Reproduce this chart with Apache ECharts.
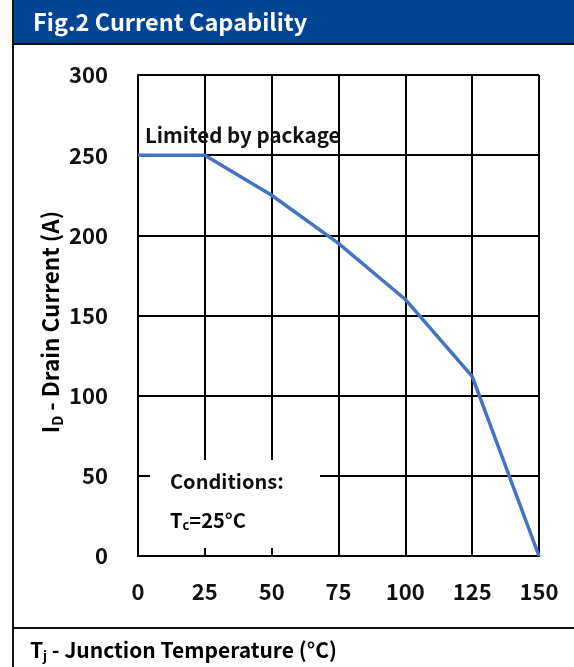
<!DOCTYPE html>
<html><head><meta charset="utf-8">
<script src="https://cdn.jsdelivr.net/npm/echarts@6/dist/echarts.min.js"></script>
<style>html,body{margin:0;padding:0;background:#fff}#c{width:574px;height:667px}</style>
</head><body><div id="c"></div>
<script>
const xTicks = [0, 25, 50, 75, 100, 125, 150];
const yTicks = [0, 50, 100, 150, 200, 250, 300];
const tempC = [0, 25, 50, 75, 100, 125, 150];
const drainA = [250, 250, 225, 195, 160, 112, 0];

const chart = echarts.init(document.getElementById('c'));
const F = '"Noto Sans CJK SC", "Noto Sans", sans-serif';
const W = 'bold';
chart.setOption({
  animation: false,
  grid: {left: 138, right: 35, top: 75, bottom: 111},
  xAxis: {
    type: 'value', min: 0, max: 150, interval: 25,
    axisLine: {show: true, lineStyle: {color: '#000', width: 2}},
    axisTick: {show: false},
    splitLine: {show: true, lineStyle: {color: '#000', width: 2}},
    axisLabel: {margin: 25, color: '#111', fontFamily: F, fontWeight: W, fontSize: 22,
      formatter: v => xTicks.includes(v) ? String(v) : ''}
  },
  yAxis: {
    type: 'value', min: 0, max: 300, interval: 50,
    axisLine: {show: true, lineStyle: {color: '#000', width: 2}},
    axisTick: {show: false},
    splitLine: {show: true, lineStyle: {color: '#000', width: 2}},
    axisLabel: {margin: 30, color: '#111', fontFamily: F, fontWeight: W, fontSize: 22,
      formatter: v => yTicks.includes(v) ? String(v) : ''}
  },
  series: [{
    type: 'line', data: tempC.map((t, i) => [t, drainA[i]]),
    symbol: 'none', lineStyle: {color: '#4472C4', width: 3.5}, z: 5
  }],
  graphic: [
    {type: 'rect', shape: {x: 12, y: 0, width: 562, height: 44}, style: {fill: '#004494'}, z: 100},
    {type: 'line', shape: {x1: 12, y1: 44, x2: 574, y2: 44}, style: {stroke: '#111', lineWidth: 2}, z: 100},
    {type: 'line', shape: {x1: 13, y1: 0, x2: 13, y2: 667}, style: {stroke: '#111', lineWidth: 2}, z: 100},
    {type: 'line', shape: {x1: 12, y1: 628, x2: 574, y2: 628}, style: {stroke: '#111', lineWidth: 2}, z: 100},
    {type: 'text', x: 33, y: 22, style: {text: 'Fig.2 Current Capability', textVerticalAlign: 'middle',
      fill: '#fff', fontFamily: F, fontWeight: 'bold', fontSize: 23.5}, z: 101},
    {type: 'text', x: 30, y: 650, style: {text: '{b|T}{s|j}{b| - Junction Temperature (°C)}', textVerticalAlign: 'middle',
      rich: {b: {fontFamily: F, fontWeight: 'bold', fontSize: 21, color: '#222'},
             s: {fontFamily: F, fontWeight: 'bold', fontSize: 13, color: '#222', padding: [13, 0, 0, 0]}}}, z: 101},
    {type: 'text', x: 50, y: 322, rotation: Math.PI / 2, style: {text: '{b|I}{s|D}{b| - Drain Current (A)}', align: 'center', verticalAlign: 'middle',
      rich: {b: {fontFamily: F, fontWeight: W, fontSize: 22.5, color: '#222'},
             s: {fontFamily: F, fontWeight: W, fontSize: 14, color: '#222', padding: [15, 0, 0, 0]}}}, z: 101},
    {type: 'rect', shape: {x: 150, y: 460, width: 170, height: 88}, style: {fill: '#fff'}, z: 100},
    {type: 'text', x: 170, y: 481, style: {text: 'Conditions:', fill: '#111', fontFamily: F, fontWeight: W, fontSize: 20, textVerticalAlign: 'middle'}, z: 101},
    {type: 'text', x: 170, y: 520, style: {text: '{b|T}{s|c}{b|=25°C}', textVerticalAlign: 'middle',
      rich: {b: {fontFamily: F, fontWeight: W, fontSize: 20, color: '#111'},
             s: {fontFamily: F, fontWeight: W, fontSize: 13, color: '#111', padding: [11, 0, 0, 0]}}}, z: 101},
    {type: 'text', x: 145, y: 135, style: {text: 'Limited by package', fill: '#111', fontFamily: F, fontWeight: W, fontSize: 20.5, textVerticalAlign: 'middle'}, z: 101}
  ]
});
</script></body></html>
